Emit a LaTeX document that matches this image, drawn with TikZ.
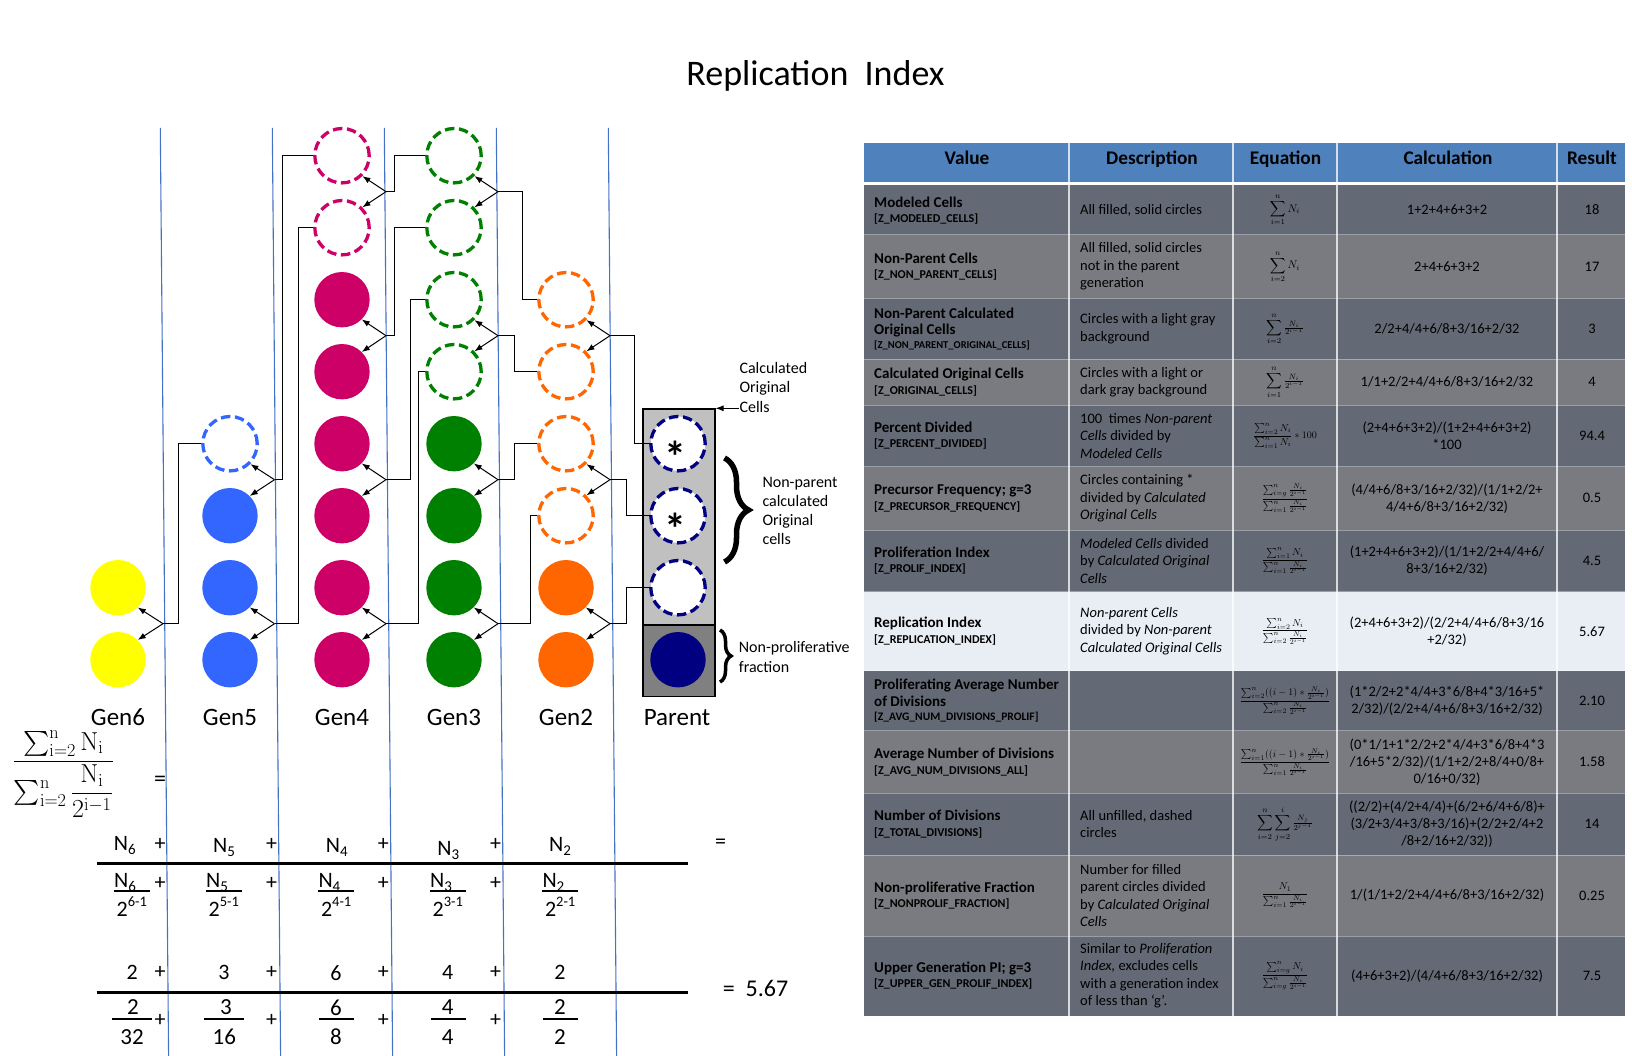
\RequirePackage{fix-cm}
\documentclass[tikz,border=0pt]{standalone}
\usepackage{amsmath}
\usepackage[no-math]{fontspec}
\setmainfont{Carlito}
\usetikzlibrary{arrows.meta,decorations.pathreplacing}
\definecolor{cyel}{RGB}{255,255,0}
\definecolor{cblu}{RGB}{51,102,255}
\definecolor{cmag}{RGB}{204,0,102}
\definecolor{cgrn}{RGB}{0,128,0}
\definecolor{corg}{RGB}{255,102,0}
\definecolor{cnav}{RGB}{0,0,128}
\definecolor{vline}{RGB}{68,114,196}
\definecolor{thead}{RGB}{79,129,189}
\definecolor{rdark}{RGB}{100,106,117}
\definecolor{rlight}{RGB}{121,123,128}
\definecolor{rhi}{RGB}{233,237,244}
\definecolor{boxlt}{RGB}{192,192,192}
\definecolor{boxdk}{RGB}{128,128,128}
\newcommand{\Nb}[1]{N\raisebox{-4.5pt}{\fontsize{15}{15}\selectfont #1}}
\newcommand{\Tw}[1]{2\raisebox{10pt}{\fontsize{14.5}{14.5}\selectfont #1}}
\newcommand{\cdx}[2][12]{{\fontsize{#1}{16}\selectfont[#2]}}
\begin{document}
\begin{tikzpicture}[x=1pt,y=-1pt,
  solidcell/.style={circle,inner sep=0pt,minimum size=55.4pt,fill=#1},
  hollowcell/.style={circle,inner sep=0pt,minimum size=54.4pt,draw=#1,fill=white,line width=3.3pt,dash pattern=on 9.5pt off 4.6pt},
  conn/.style={line width=1pt},
  arr/.style={line width=1pt,-{Latex[length=8pt,width=6pt]}},
  gentxt/.style={inner sep=0pt,anchor=base,font=\fontsize{25}{25}\selectfont},
  ann/.style={inner sep=0pt,anchor=west,align=left,font=\fontsize{16}{19.2}\selectfont},
  ftxt/.style={inner sep=0pt,font=\fontsize{22}{22}\selectfont},
  dtxt/.style={inner sep=0pt,font=\fontsize{23}{23}\selectfont},
  hdr/.style={inner sep=0pt,anchor=base,font=\fontsize{19.3}{22}\selectfont\bfseries},
  vt/.style={anchor=west,align=left,inner sep=0pt,font=\fontsize{15}{16.5}\selectfont\bfseries},
  dt/.style={anchor=west,align=left,inner sep=0pt,font=\fontsize{14.5}{17.5}\selectfont},
  ct/.style={align=center,inner sep=0pt,font=\fontsize{14.5}{17}\selectfont},
  rt/.style={inner sep=0pt,font=\fontsize{14.5}{17}\selectfont},
  et/.style={inner sep=0pt,font=\fontsize{10}{12}\selectfont},
  es/.style={inner sep=0pt,font=\fontsize{11}{13}\selectfont},
  asttxt/.style={inner sep=0pt,anchor=north,font=\fontsize{44}{44}\selectfont\bfseries},
]
\fill[white] (0,0) rectangle (1632,1056);
\useasboundingbox (0,0) rectangle (1632,1056);

% title
\node[inner sep=0pt,anchor=base,font=\fontsize{36}{36}\selectfont] (title) at (815.5,85.7) {Replication\ \ Index};

% blue guide lines
\foreach \xt in {160.3,272.3,384.3,496.3,608.3}
  \draw[vline,line width=1.1pt] (\xt,128) -- ({\xt+8.3},1056);

% parent boxes
\node[draw,fill=boxlt,line width=1.2pt,minimum width=72pt,minimum height=216pt,anchor=north west,inner sep=0pt] (pboxa) at (642.3,408.3) {};
\node[draw,fill=boxdk,line width=1.2pt,minimum width=72pt,minimum height=71.7pt,anchor=north west,inner sep=0pt] (pboxb) at (642.3,624.3) {};

% cells
\foreach \rr in {0,1} \node[solidcell=cyel] (g6r\rr) at (118,{659.7-72*\rr}) {};
\foreach \rr in {0,1,2} \node[solidcell=cblu] (g5r\rr) at (230,{659.7-72*\rr}) {};
\node[hollowcell=cblu] (g5r3) at (230,443.7) {};
\foreach \rr in {0,...,5} \node[solidcell=cmag] (g4r\rr) at (342,{659.7-72*\rr}) {};
\foreach \rr in {6,7} \node[hollowcell=cmag] (g4r\rr) at (342,{659.7-72*\rr}) {};
\foreach \rr in {0,...,3} \node[solidcell=cgrn] (g3r\rr) at (454,{659.7-72*\rr}) {};
\foreach \rr in {4,...,7} \node[hollowcell=cgrn] (g3r\rr) at (454,{659.7-72*\rr}) {};
\foreach \rr in {0,1} \node[solidcell=corg] (g2r\rr) at (566,{659.7-72*\rr}) {};
\foreach \rr in {2,...,5} \node[hollowcell=corg] (g2r\rr) at (566,{659.7-72*\rr}) {};
\node[solidcell=cnav] (g1r0) at (678,659.7) {};
\foreach \rr in {1,2,3} \node[hollowcell=cnav] (g1r\rr) at (678,{659.7-72*\rr}) {};
\node[asttxt] (ast3) at (675.3,440.5) {*};
\node[asttxt] (ast2) at (675.3,512.5) {*};

% connectors
\foreach \gn/\fx/\lo/\ex/\tg in {
 g6/163/0/178.7/g5r3,
 g5/274.5/2/282.7/g4r7,
 g5/274.5/0/298.3/g4r6,
 g4/386/6/394.3/g3r7,
 g4/386/4/394.3/g3r6,
 g4/386/2/410.3/g3r5,
 g4/386/0/418.3/g3r4,
 g3/498/6/522.3/g2r5,
 g3/498/4/514.3/g2r4,
 g3/498/2/514.3/g2r3,
 g3/498/0/530.3/g2r2,
 g2/610/4/634.3/g1r3,
 g2/610/2/626.3/g1r2,
 g2/610/0/626.3/g1r1}{
  \pgfmathtruncatemacro{\hi}{\lo+1}
  \pgfmathsetmacro{\fy}{623.7-72*\lo}
  \coordinate (f\gn\lo) at (\fx,\fy);
  \draw[arr] (f\gn\lo) -- (\gn r\hi.-45);
  \draw[arr] (f\gn\lo) -- (\gn r\lo.45);
  \draw[conn] (f\gn\lo) -- (\ex,\fy) |- (\tg.west);
}

% generation labels
\node[gentxt] (lg6) at (118,725.7) {Gen6};
\node[gentxt] (lg5) at (230,725.7) {Gen5};
\node[gentxt] (lg4) at (342,725.7) {Gen4};
\node[gentxt] (lg3) at (454,725.7) {Gen3};
\node[gentxt] (lg2) at (566,725.7) {Gen2};
\node[gentxt] (lg1) at (677,725.7) {Parent};

% annotations
\node[ann] (annCOC) at (739.3,387.5) {Calculated\\Original\\Cells};
\coordinate (cocstart) at (739,408.3);
\draw[arr] (cocstart) -- (pboxa.north east);
\draw[decorate,decoration={brace,amplitude=24pt},line width=5.5pt] (724.5,458) -- (724.5,562);
\node[ann] (annNP) at (762.3,511) {Non-parent\\calculated\\Original\\cells};
\draw[decorate,decoration={brace,amplitude=11pt},line width=3.5pt] (720,630) -- (720,682);
\node[ann] (annNF) at (738.7,657) {Non-proliferative\\fraction};

% big formula
\node[inner sep=0pt,font=\fontsize{26}{30}\selectfont] (bigfrac) at (63.3,774)
  {$\dfrac{\sum\nolimits_{\mathrm{i}=2}^{\mathrm{n}}\mathrm{N}_{\mathrm{i}}}{\sum\nolimits_{\mathrm{i}=2}^{\mathrm{n}}\dfrac{\mathrm{N}_{\mathrm{i}}}{2^{\mathrm{i}-1}}}$};
\node[inner sep=0pt,font=\fontsize{24}{24}\selectfont] (bigeq) at (160,781) {=};

% row A
\foreach \nm/\x/\b/\s in {a6/124.7/850/6, a5/224/852/5, a4/336.7/852/4, a3/448.3/855/3, a2/560/851/2}
  \node[ftxt,anchor=base] (\nm) at (\x,\b) {\Nb{\s}};
\foreach \i/\x in {1/160,2/271.7,3/383.3,4/495.7}{
  \node[ftxt] (pa\i) at (\x,844) {+};
  \node[ftxt] (pb\i) at (\x,883.3) {+};
  \node[ftxt] (pc\i) at (\x,972.7) {+};
  \node[ftxt] (pd\i) at (\x,1020) {+};
}
\node[ftxt] (eqa) at (720.7,844) {=};
\draw[line width=2.7pt] (96.7,863.7) -- (688.3,863.7);

% row B
\foreach \nm/\L/\s in {b6/114/6, b5/206/5, b4/318.3/4, b3/430/3, b2/542.3/2}{
  \draw[line width=1.6pt] (\L,890.7) -- ({\L+36},890.7);
  \node[ftxt,anchor=base west] (\nm n) at (\L,887) {\Nb{\s}};
  \node[ftxt,anchor=base west] (\nm d) at ({\L+2.5},916) {\Tw{\s-1}};
}

% row C
\foreach \nm/\x/\v in {c6/132.3/2, c5/224/3, c4/336/6, c3/447.7/4, c2/560/2}
  \node[ftxt] (\nm) at (\x,972.7) {\v};
\draw[line width=2.7pt] (96.7,992.3) -- (688.3,992.3);
\node[inner sep=0pt,anchor=base west,font=\fontsize{24}{24}\selectfont] (res) at (722.7,996) {=\ \ 5.67};

% row D
\foreach \nm/\L/\R/\xn/\xd/\n/\d in {d6/112/152/133/132/2/32, d5/204/243.7/226/224.3/3/16, d4/319/354/336/336/6/8, d3/431/465.7/447.7/447.7/4/4, d2/543/577.7/560/560/2/2}{
  \draw[line width=1.6pt] (\L,1019) -- (\R,1019);
  \node[dtxt] (\nm n) at (\xn,1007.5) {\n};
  \node[dtxt] (\nm d) at (\xd,1036.7) {\d};
}

% ===== table =====
\fill[thead] (864,142.7) rectangle (1625,182.3);
\fill[rdark] (864,185) rectangle (1625,235);
\fill[rlight] (864,235) rectangle (1625,298.3);
\fill[rdark] (864,298.3) rectangle (1625,359.3);
\fill[rlight] (864,359.3) rectangle (1625,405);
\fill[rdark] (864,405) rectangle (1625,466.7);
\fill[rlight] (864,466.7) rectangle (1625,530);
\fill[rdark] (864,530) rectangle (1625,591.7);
\fill[rhi] (864,591.7) rectangle (1625,670.7);
\fill[rdark] (864,670.7) rectangle (1625,730.7);
\fill[rlight] (864,730.7) rectangle (1625,793.3);
\fill[rdark] (864,793.3) rectangle (1625,855);
\fill[rlight] (864,855) rectangle (1625,936);
\fill[rdark] (864,936) rectangle (1625,1015.5);
\foreach \yy in {235,298.3,359.3,405,466.7,530,591.7,670.7,730.7,793.3,855,936}
  \draw[white,opacity=0.35,line width=1pt] (864,\yy) -- (1625,\yy);
\foreach \xx in {1069,1233,1337,1557}
  \draw[white,opacity=0.75,line width=1.2pt] (\xx,142.7) -- (\xx,1015.5);

\node[hdr] (h1) at (967,164.3) {Value};
\node[hdr] (h2) at (1152,164.3) {Description};
\node[hdr] (h3) at (1285.5,164.3) {Equation};
\node[hdr] (h4) at (1448,164.3) {Calculation};
\node[hdr] (h5) at (1592,164.3) {Result};

% row 1
\node[vt] (v1) at (874,210.5) {Modeled Cells\\[-1pt]\cdx{Z\_MODELED\_CELLS}};
\node[dt] (d1) at (1080,210) {All filled, solid circles};
\node[es] (e1) at (1285,210) {$\displaystyle\sum_{i=1}^{n} N_i$};
\node[ct] (c1) at (1447,210) {1+2+4+6+3+2};
\node[rt] (r1) at (1592,210) {18};
% row 2
\node[vt] (v2) at (874,266.7) {Non-Parent Cells\\[-1pt]\cdx{Z\_NON\_PARENT\_CELLS}};
\node[dt] (d2) at (1080,266.7) {All filled, solid circles\\not in the parent\\generation};
\node[es] (e2) at (1285,266.7) {$\displaystyle\sum_{i=2}^{n} N_i$};
\node[ct] (c2) at (1447,266.7) {2+4+6+3+2};
\node[rt] (r2) at (1592,266.7) {17};
% row 3
\node[vt] (v3) at (874,328.8) {Non-Parent Calculated\\Original Cells\\[-3pt]\cdx[10.5]{Z\_NON\_PARENT\_ORIGINAL\_CELLS}};
\node[dt] (d3) at (1080,328.8) {Circles with a light gray\\background};
\node[es] (e3) at (1285,328.8) {$\displaystyle\sum_{i=2}^{n}\tfrac{N_i}{2^{i-1}}$};
\node[ct] (c3) at (1447,328.8) {2/2+4/4+6/8+3/16+2/32};
\node[rt] (r3) at (1592,328.8) {3};
% row 4
\node[vt] (v4) at (874,382.2) {Calculated Original Cells\\[-1pt]\cdx{Z\_ORIGINAL\_CELLS}};
\node[dt] (d4) at (1080,382.2) {Circles with a light or\\dark gray background};
\node[es] (e4) at (1285,382.2) {$\displaystyle\sum_{i=1}^{n}\tfrac{N_i}{2^{i-1}}$};
\node[ct] (c4) at (1447,382.2) {1/1+2/2+4/4+6/8+3/16+2/32};
\node[rt] (r4) at (1592,382.2) {4};
% row 5
\node[vt] (v5) at (874,435.8) {Percent Divided\\[-1pt]\cdx{Z\_PERCENT\_DIVIDED}};
\node[dt] (d5) at (1080,435.8) {100\ \ times \textit{Non-parent}\\\textit{Cells} divided by\\\textit{Modeled Cells}};
\node[et] (e5) at (1285,435.8) {$\dfrac{\sum_{i=2}^{n}N_i}{\sum_{i=1}^{n}N_i}\ast 100$};
\node[ct] (c5) at (1447,435.8) {(2+4+6+3+2)/(1+2+4+6+3+2)\\*100};
\node[rt] (r5) at (1592,435.8) {94.4};
% row 6
\node[vt] (v6) at (874,498.3) {Precursor Frequency; g=3\\[-1pt]\cdx{Z\_PRECURSOR\_FREQUENCY}};
\node[dt] (d6) at (1080,498.3) {Circles containing *\\divided by \textit{Calculated}\\\textit{Original Cells}};
\node[et] (e6) at (1285,498.3) {$\dfrac{\sum_{i=g}^{n}\frac{N_i}{2^{i-1}}}{\sum_{i=1}^{n}\frac{N_i}{2^{i-1}}}$};
\node[ct] (c6) at (1447,498.3) {(4/4+6/8+3/16+2/32)/(1/1+2/2+\\4/4+6/8+3/16+2/32)};
\node[rt] (r6) at (1592,498.3) {0.5};
% row 7
\node[vt] (v7) at (874,560.8) {Proliferation Index\\[-1pt]\cdx{Z\_PROLIF\_INDEX}};
\node[dt] (d7) at (1080,560.8) {\textit{Modeled Cells} divided\\by \textit{Calculated Original}\\\textit{Cells}};
\node[et] (e7) at (1285,560.8) {$\dfrac{\sum_{i=1}^{n}N_i}{\sum_{i=1}^{n}\frac{N_i}{2^{i-1}}}$};
\node[ct] (c7) at (1447,560.8) {(1+2+4+6+3+2)/(1/1+2/2+4/4+6/\\8+3/16+2/32)};
\node[rt] (r7) at (1592,560.8) {4.5};
% row 8
\node[vt] (v8) at (874,631.2) {Replication Index\\[-1pt]\cdx{Z\_REPLICATION\_INDEX}};
\node[dt] (d8) at (1080,631.2) {\textit{Non-parent Cells}\\divided by \textit{Non-parent}\\\textit{Calculated Original Cells}};
\node[et] (e8) at (1285,631.2) {$\dfrac{\sum_{i=2}^{n}N_i}{\sum_{i=2}^{n}\frac{N_i}{2^{i-1}}}$};
\node[ct] (c8) at (1447,631.2) {(2+4+6+3+2)/(2/2+4/4+6/8+3/16\\+2/32)};
\node[rt] (r8) at (1592,631.2) {5.67};
% row 9
\node[vt] (v9) at (874,700.7) {Proliferating Average Number\\of Divisions\\[-2pt]\cdx[11.5]{Z\_AVG\_NUM\_DIVISIONS\_PROLIF}};
\node[et] (e9) at (1285,700.7) {$\dfrac{\sum_{i=2}^{n}((i-1)\ast\frac{N_i}{2^{i-1}})}{\sum_{i=2}^{n}\frac{N_i}{2^{i-1}}}$};
\node[ct] (c9) at (1447,700.7) {(1*2/2+2*4/4+3*6/8+4*3/16+5*\\2/32)/(2/2+4/4+6/8+3/16+2/32)};
\node[rt] (r9) at (1592,700.7) {2.10};
% row 10
\node[vt] (v10) at (874,762) {Average Number of Divisions\\[-1pt]\cdx{Z\_AVG\_NUM\_DIVISIONS\_ALL}};
\node[et] (e10) at (1285,762) {$\dfrac{\sum_{i=1}^{n}((i-1)\ast\frac{N_i}{2^{i-1}})}{\sum_{i=1}^{n}\frac{N_i}{2^{i-1}}}$};
\node[ct] (c10) at (1447,762) {(0*1/1+1*2/2+2*4/4+3*6/8+4*3\\/16+5*2/32)/(1/1+2/2+8/4+0/8+\\0/16+0/32)};
\node[rt] (r10) at (1592,762) {1.58};
% row 11
\node[vt] (v11) at (874,824.2) {Number of Divisions\\[-1pt]\cdx{Z\_TOTAL\_DIVISIONS}};
\node[dt] (d11) at (1080,824.2) {All unfilled, dashed\\circles};
\node[es] (e11) at (1285,824.2) {$\displaystyle\sum_{i=2}^{n}\sum_{j=2}^{i}\tfrac{N_j}{2^{j-1}}$};
\node[ct] (c11) at (1447,824.2) {((2/2)+(4/2+4/4)+(6/2+6/4+6/8)+\\(3/2+3/4+3/8+3/16)+(2/2+2/4+2\\/8+2/16+2/32))};
\node[rt] (r11) at (1592,824.2) {14};
% row 12
\node[vt] (v12) at (874,895.5) {Non-proliferative Fraction\\[-1pt]\cdx{Z\_NONPROLIF\_FRACTION}};
\node[dt] (d12) at (1080,895.5) {Number for filled\\parent circles divided\\by \textit{Calculated Original}\\\textit{Cells}};
\node[et] (e12) at (1285,895.5) {$\dfrac{N_1}{\sum_{i=1}^{n}\frac{N_i}{2^{i-1}}}$};
\node[ct] (c12) at (1447,895.5) {1/(1/1+2/2+4/4+6/8+3/16+2/32)};
\node[rt] (r12) at (1592,895.5) {0.25};
% row 13
\node[vt] (v13) at (874,975.8) {Upper Generation PI; g=3\\[-1pt]\cdx{Z\_UPPER\_GEN\_PROLIF\_INDEX}};
\node[dt] (d13) at (1080,975.8) {Similar to \textit{Proliferation}\\\textit{Index,} excludes cells\\with a generation index\\of less than `g'.};
\node[et] (e13) at (1285,975.8) {$\dfrac{\sum_{i=g}^{n}N_i}{\sum_{i=g}^{n}\frac{N_i}{2^{i-1}}}$};
\node[ct] (c13) at (1447,975.8) {(4+6+3+2)/(4/4+6/8+3/16+2/32)};
\node[rt] (r13) at (1592,975.8) {7.5};
\end{tikzpicture}
\end{document}
